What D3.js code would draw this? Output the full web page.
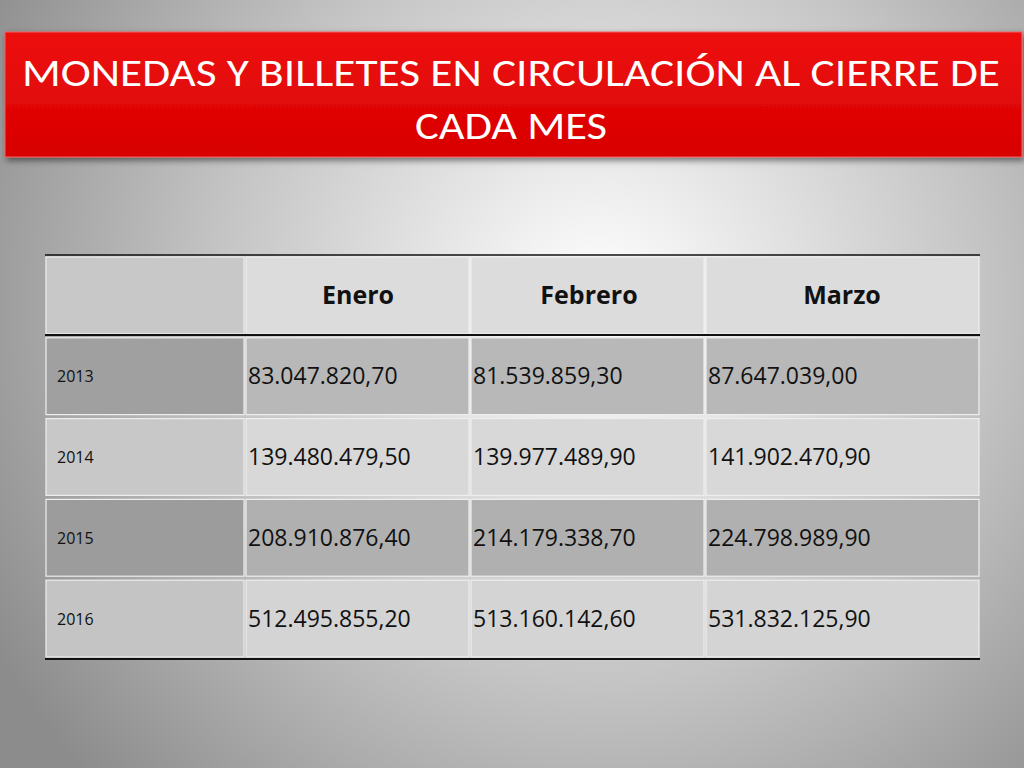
<!DOCTYPE html>
<html><head><meta charset="utf-8">
<script src="https://cdn.jsdelivr.net/npm/d3@7"></script>
<style>body{margin:0;overflow:hidden}</style>
</head><body>
<script>
const title1 = "MONEDAS Y BILLETES EN CIRCULACIÓN AL CIERRE DE";
const title2 = "CADA MES";
const months = ["Enero","Febrero","Marzo"];
const years = ["2013","2014","2015","2016"];
const enero = ["83.047.820,70","139.480.479,50","208.910.876,40","512.495.855,20"];
const febrero = ["81.539.859,30","139.977.489,90","214.179.338,70","513.160.142,60"];
const marzo = ["87.647.039,00","141.902.470,90","224.798.989,90","531.832.125,90"];
const cols = [enero, febrero, marzo];

const W=1024,H=768;
const svg=d3.select("body").append("svg").attr("width",W).attr("height",H);
const defs=svg.append("defs");
const rg=defs.append("radialGradient").attr("id","bg").attr("gradientUnits","userSpaceOnUse")
 .attr("cx",600).attr("cy",300).attr("r",700);
rg.append("stop").attr("offset","0").attr("stop-color","#ffffff");
rg.append("stop").attr("offset","0.55").attr("stop-color","#c4c4c4");
rg.append("stop").attr("offset","1").attr("stop-color","#8c8c8c");
svg.append("rect").attr("width",W).attr("height",H).attr("fill","url(#bg)");
const f=defs.append("filter").attr("id","sh").attr("x","-5%").attr("y","-10%").attr("width","110%").attr("height","130%");
f.append("feDropShadow").attr("dx",2).attr("dy",3).attr("stdDeviation",3).attr("flood-opacity",0.5);
const lg=defs.append("linearGradient").attr("id","red").attr("x1",0).attr("y1",0).attr("x2",0).attr("y2",1);
lg.append("stop").attr("offset",0).attr("stop-color","#ee1010");
lg.append("stop").attr("offset",1).attr("stop-color","#d80000");
svg.append("rect").attr("x",5).attr("y",32).attr("width",1017).attr("height",125).attr("fill","url(#red)")
 .attr("stroke","#f06060").attr("stroke-width",1).attr("filter","url(#sh)");
const ft="Carlito, Lato, 'Open Sans', sans-serif";
const fv="'Open Sans', sans-serif";
svg.append("text").attr("x",22).attr("y",86).attr("fill","#fff")
 .attr("font-family",ft).attr("font-size",39).attr("textLength",978).attr("lengthAdjust","spacingAndGlyphs").text(title1);
svg.append("text").attr("x",415).attr("y",139).attr("fill","#fff")
 .attr("font-family",ft).attr("font-size",39).attr("textLength",192).attr("lengthAdjust","spacingAndGlyphs").text(title2);

const colEdges=[45,245,470,705,980];
const x=d3.scaleOrdinal().domain(["y",...months]).range(colEdges.slice(0,4));
const wid=d=>colEdges[x.domain().indexOf(d)+1]-colEdges[x.domain().indexOf(d)];
const y=d3.scaleBand().domain(["h",...years]).range([255,659]);
const fills={h:["#c8c8c8","#dcdcdc"],"2013":["#a0a0a0","#b8b8b8"],"2014":["#c8c8c8","#d8d8d8"],"2015":["#9c9c9c","#b0b0b0"],"2016":["#c4c4c4","#d4d4d4"]};
y.domain().forEach(r=>{
  x.domain().forEach((c,ci)=>{
    svg.append("rect").attr("x",x(c)+1).attr("y",y(r)+2).attr("width",wid(c)-2).attr("height",y.bandwidth()-4)
     .attr("fill",ci===0?fills[r][0]:fills[r][1]).attr("stroke","#eeeeee").attr("stroke-width",1.2);
  });
});
[255,335,659].forEach(v=>svg.append("line").attr("x1",45).attr("x2",980).attr("y1",v).attr("y2",v)
 .attr("stroke","#111").attr("stroke-width",v===255?1.5:2));
const hc={Enero:358,Febrero:589,Marzo:842};
months.forEach(m=>svg.append("text").attr("x",hc[m]).attr("y",y("h")+y.bandwidth()/2+9)
 .attr("text-anchor","middle").attr("font-family",fv).attr("font-weight","bold").attr("font-size",25).attr("fill","#111").text(m));
years.forEach((yr,i)=>{
  const cy=y(yr)+y.bandwidth()/2;
  svg.append("text").attr("x",57).attr("y",cy+6).attr("font-family",fv).attr("font-size",16).attr("fill","#111").text(yr);
  months.forEach((m,j)=>svg.append("text").attr("x",x(m)+3).attr("y",cy+8).attr("font-family",fv)
   .attr("font-size",23).attr("fill","#111").text(cols[j][i]));
});
</script>
</body></html>
